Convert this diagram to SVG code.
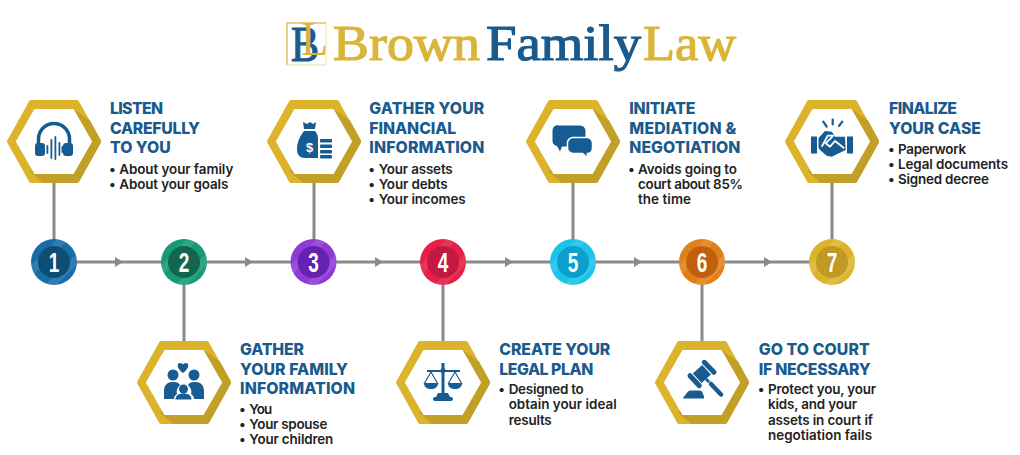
<svg xmlns="http://www.w3.org/2000/svg" width="1020" height="455" viewBox="0 0 1020 455">
<style>
.h{font:800 15.8px Inter,"Liberation Sans",sans-serif;fill:#1b5a8c}
.b{font:600 13.4px Inter,"Liberation Sans",sans-serif;fill:#222}
.n{font:700 28px "Liberation Sans",sans-serif;fill:#fff;text-anchor:middle}
.lg{font:400 50px "Liberation Serif",serif;stroke-width:1.200}
.g{fill:#d9b53c;stroke:#d9b53c}.u{fill:#1b5a8c;stroke:#1b5a8c}
.ic{fill:#165c92}
.ln{stroke:#8a8a8a;stroke-width:3;fill:none}
.ar{fill:#8a8a8a}
.st{stroke:#fff;stroke-opacity:.11;stroke-width:8;fill:none}
.is{stroke:#165c92;fill:none;stroke-linecap:round}
</style>
<defs>
<g id="hex">
<polygon points="-23,-39.500 23,-39.500 45,0 23,39.500 -23,39.500 -45,0" fill="#dcb42b" stroke="#dcb42b" stroke-width="4" stroke-linejoin="round"/>
<polygon points="-24,30 -11,41.500 23,41.500 25,40.500 47,1 47,-1 36,-21 20,-32 0,0" fill="#c29f27"/>
<polygon points="-19,-31.500 19,-31.500 37,0 19,31.500 -19,31.500 -37,0" fill="#fff" stroke="#fff" stroke-width="2" stroke-linejoin="round"/>
</g>
<clipPath id="cc"><circle r="23"/></clipPath>
<g id="stripes" clip-path="url(#cc)">
<path class="st" d="M-26,12 L12,-26 M-10,30 L30,-10"/>
</g>
</defs>

<g id="logo">
<path d="M287,65V23H326" fill="none" stroke="#e8d088" stroke-width="2"/>
<path d="M326,23V65H287" fill="none" stroke="#efdfa8" stroke-width="1"/>
<text x="291" y="61" class="lg u" style="font-size:51px" textLength="28" lengthAdjust="spacingAndGlyphs">B</text>
<text x="301" y="55" class="lg g" style="font-size:49px;stroke-width:0" textLength="27" lengthAdjust="spacingAndGlyphs">L</text>
<text x="333" y="60" class="lg g" textLength="147" lengthAdjust="spacingAndGlyphs">Brown</text>
<text x="486" y="60" class="lg u" textLength="155" lengthAdjust="spacingAndGlyphs">Family</text>
<text x="643" y="60" class="lg g" textLength="93" lengthAdjust="spacingAndGlyphs">Law</text>
</g>

<g id="connectors">
<path class="ln" d="M54,180V262M184,262V345M314,180V262M443,262V345M573,180V262M702,262V345M832,180V262"/>
<path class="ln" d="M54,262H832"/>
<path class="ar" d="M115,257l8,5l-8,5zM245,257l8,5l-8,5zM375,257l8,5l-8,5zM505,257l8,5l-8,5zM634,257l8,5l-8,5zM764,257l8,5l-8,5z"/>
</g>

<g id="node1">
<use href="#hex" x="54" y="141.500"/>
<g class="ic">
<path d="M38.500,148V139a15.500,15.500 0 0 1 31,0V148" fill="none" stroke="#165c92" stroke-width="3.500"/>
<rect x="35" y="143" width="10" height="13" rx="3"/><rect x="63" y="143" width="10" height="13" rx="3"/>
<rect x="46.500" y="145" width="1.800" height="9" rx=".9"/><rect x="50.500" y="139" width="1.800" height="20" rx=".9"/><rect x="54.500" y="136" width="1.800" height="24" rx=".9"/><rect x="58.500" y="142" width="1.800" height="14" rx=".9"/><rect x="61.500" y="146" width="1.500" height="7" rx=".7"/>
</g>
<text class="h" x="110" y="114" textLength="53">LISTEN</text>
<text class="h" x="110" y="133.500" textLength="90">CAREFULLY</text>
<text class="h" x="110" y="153" textLength="60.700">TO YOU</text>
<text class="b" x="109" y="173.500">•</text><text class="b" x="119.300" y="173.500" textLength="114">About your family</text>
<text class="b" x="109" y="188.500">•</text><text class="b" x="119.300" y="188.500" textLength="109">About your goals</text>
</g>

<g id="node2">
<use href="#hex" x="184" y="382.500"/>
<g class="ic">
<path d="M183,373c-7,-5 -6,-10 -3,-10c2,0 3,1 3,2c0,-1 1,-2 3,-2c3,0 4,5 -3,10z"/>
<circle cx="173" cy="375" r="5.500"/><circle cx="194" cy="375" r="5.500"/>
<path d="M164,399V391c0,-6 4,-9 8,-9h2c3,0 5,1 6,3c-3,3 -4,6 -3,9c-2,1 -3,3 -3,5z"/>
<path d="M204,399V391c0,-6 -4,-9 -8,-9h-2c-3,0 -5,1 -6,3c3,3 4,6 3,9c2,1 3,3 3,5z"/>
<circle cx="183.500" cy="389" r="4.500"/>
<path d="M175.500,399.500c0,-4 3,-6 8,-6s8,2 8,6z"/>
</g>
<text class="h" x="240" y="355" textLength="64">GATHER</text>
<text class="h" x="240" y="374.500" textLength="108">YOUR FAMILY</text>
<text class="h" x="240" y="394" textLength="115">INFORMATION</text>
<text class="b" x="239" y="413.500">•</text><text class="b" x="249.300" y="413.500" textLength="23">You</text>
<text class="b" x="239" y="428.700">•</text><text class="b" x="249.300" y="428.700" textLength="78">Your spouse</text>
<text class="b" x="239" y="444">•</text><text class="b" x="249.300" y="444" textLength="84">Your children</text>
</g>

<g id="node3">
<use href="#hex" x="314" y="141.500"/>
<g class="ic">
<path d="M303,122l4,2l3,-2l3,2l3,-2l-1,7h-11z"/>
<path d="M304,131h11c3,3 3,6 3,9v18h-13c-5,0 -8,-3 -8,-9c0,-8 4,-14 7,-18z"/>
<rect x="320" y="139" width="12" height="3.500" rx="1"/><rect x="320" y="144.500" width="12" height="3.500" rx="1"/><rect x="320" y="150" width="12" height="3.500" rx="1"/><rect x="320" y="155" width="12" height="3.500" rx="1"/>
</g>
<text x="309.500" y="152" fill="#fff" style="font:700 13px 'Liberation Sans',sans-serif" text-anchor="middle">$</text>
<text class="h" x="369.300" y="114" textLength="115">GATHER YOUR</text>
<text class="h" x="369.300" y="133.500" textLength="87">FINANCIAL</text>
<text class="h" x="369.300" y="153" textLength="115">INFORMATION</text>
<text class="b" x="368.300" y="173.500">•</text><text class="b" x="378.700" y="173.500" textLength="74">Your assets</text>
<text class="b" x="368.300" y="188.700">•</text><text class="b" x="378.700" y="188.700" textLength="69">Your debts</text>
<text class="b" x="368.300" y="204">•</text><text class="b" x="378.700" y="204" textLength="87">Your incomes</text>
</g>

<g id="node4">
<use href="#hex" x="443" y="382.500"/>
<g class="ic">
<circle cx="443" cy="370.500" r="2.500"/>
<rect x="441.500" y="363" width="3" height="30"/>
<rect x="427" y="370" width="33" height="2"/>
<path d="M438,393h10l2,4h-14z"/>
<rect x="433" y="397" width="20" height="4" rx="2"/>
<path d="M431,372l-7,12M431,372l7,12M455,372l-7,12M455,372l7,12" stroke="#165c92" stroke-width="1.200" fill="none"/>
<path d="M424,383h14c0,4 -3,6 -7,6s-7,-2 -7,-6z"/>
<path d="M448,383h14c0,4 -3,6 -7,6s-7,-2 -7,-6z"/>
</g>
<text class="h" x="499.300" y="355" textLength="111">CREATE YOUR</text>
<text class="h" x="499.300" y="374.500" textLength="94">LEGAL PLAN</text>
<text class="b" x="498.300" y="394">•</text><text class="b" x="508.700" y="394" textLength="75">Designed to</text>
<text class="b" x="508.700" y="409.200" textLength="108">obtain your ideal</text>
<text class="b" x="508.700" y="424.500" textLength="43">results</text>
</g>

<g id="node5">
<use href="#hex" x="573" y="141.500"/>
<g class="ic">
<path d="M558,125.500h22a5.500,5.500 0 0 1 5.500,5.500v10a5.500,5.500 0 0 1 -5.500,5.500h-18l-2,5l-3,-5.500a5.500,5.500 0 0 1 -4.500,-5.500v-10a5.500,5.500 0 0 1 5.500,-5.500z"/>
<path d="M573,137.500h14a5.500,5.500 0 0 1 5.500,5.500v5.500a5.500,5.500 0 0 1 -5,5l0,4l-5,-4h-9.500a5.500,5.500 0 0 1 -5.500,-5.500v-5a5.500,5.500 0 0 1 5.500,-5.500z" stroke="#fff" stroke-width="1.500"/>
</g>
<text class="h" x="629.300" y="114" textLength="66">INITIATE</text>
<text class="h" x="629.300" y="133.500" textLength="107">MEDIATION &amp;</text>
<text class="h" x="629.300" y="153" textLength="111">NEGOTIATION</text>
<text class="b" x="628" y="173.500">•</text><text class="b" x="638" y="173.500" textLength="99">Avoids going to</text>
<text class="b" x="638" y="188.700" textLength="105">court about 85%</text>
<text class="b" x="638" y="204" textLength="53">the time</text>
</g>

<g id="node6">
<use href="#hex" x="702" y="382.500"/>
<g class="ic">
<path d="M683,398.500c0,-1 1,-2 2,-3l3,-4c1,-1 2,-1 3,-1h8c1,0 2,0 3,1l2,5v2z"/>
<path d="M690,375.700L699.300,385.700M704.300,362.300L714,372.300" stroke="#165c92" stroke-width="5" stroke-linecap="round" fill="none"/>
<path d="M697.200,378.300L706.600,369.700" stroke="#165c92" stroke-width="13" fill="none"/>
<path d="M706,379L709,382" stroke="#165c92" stroke-width="3" fill="none"/>
<path d="M711,384L721,394.500" stroke="#165c92" stroke-width="4.500" stroke-linecap="round" fill="none"/>
</g>
<text class="h" x="758.700" y="355" textLength="111">GO TO COURT</text>
<text class="h" x="758.700" y="374.500" textLength="112">IF NECESSARY</text>
<text class="b" x="757.700" y="394">•</text><text class="b" x="768" y="394" textLength="108">Protect you, your</text>
<text class="b" x="768" y="409.200" textLength="89">kids, and your</text>
<text class="b" x="768" y="424.500" textLength="105">assets in court if</text>
<text class="b" x="768" y="439.800" textLength="104">negotiation fails</text>
</g>

<g id="node7">
<use href="#hex" x="832" y="141.500"/>
<g class="ic">
<rect x="811" y="136.500" width="6" height="17"/><rect x="847" y="136.500" width="6" height="17"/>
<path d="M818.500,138L825,131L832,131.700L835,136.700H845L845.700,150L831.700,156.700L826.700,155.700L820,150L818.500,147.700Z"/>
<path d="M821.700,146.700L827.700,135.700H833.300L825.700,143.300L830,146.700L835,141L844.300,148.300" stroke="#fff" stroke-width="1.800" fill="none" stroke-linejoin="round"/>
<path class="is" stroke-width="2.200" d="M832.700,119.500V124.300M823.300,121.700L826.700,126.700M842.300,121.700L839,126"/>
</g>
<text class="h" x="889" y="114" textLength="68">FINALIZE</text>
<text class="h" x="889" y="133.500" textLength="92">YOUR CASE</text>
<text class="b" x="888" y="154">•</text><text class="b" x="898" y="154" textLength="68">Paperwork</text>
<text class="b" x="888" y="169">•</text><text class="b" x="898" y="169" textLength="110">Legal documents</text>
<text class="b" x="888" y="184.300">•</text><text class="b" x="898" y="184.300" textLength="91">Signed decree</text>
</g>

<g id="step1"><g transform="translate(54,262)"><circle r="23" fill="#1a6ca8"/><use href="#stripes"/><circle r="16" fill="#0e4d74"/><text class="n" transform="translate(0,10) scale(.68,1)">1</text></g></g>
<g id="step2"><g transform="translate(184,262)"><circle r="23" fill="#179a78"/><use href="#stripes"/><circle r="16" fill="#126650"/><text class="n" transform="translate(0,10) scale(.68,1)">2</text></g></g>
<g id="step3"><g transform="translate(313.500,262)"><circle r="23" fill="#8e3bd6"/><use href="#stripes"/><circle r="16" fill="#6422b0"/><text class="n" transform="translate(0,10) scale(.68,1)">3</text></g></g>
<g id="step4"><g transform="translate(443,262)"><circle r="23" fill="#e51f45"/><use href="#stripes"/><circle r="16" fill="#c21842"/><text class="n" transform="translate(0,10) scale(.68,1)">4</text></g></g>
<g id="step5"><g transform="translate(573,262)"><circle r="23" fill="#1cc3e8"/><use href="#stripes"/><circle r="16" fill="#0c9fcb"/><text class="n" transform="translate(0,10) scale(.68,1)">5</text></g></g>
<g id="step6"><g transform="translate(702,262)"><circle r="23" fill="#e08018"/><use href="#stripes"/><circle r="16" fill="#c0600f"/><text class="n" transform="translate(0,10) scale(.68,1)">6</text></g></g>
<g id="step7"><g transform="translate(832,262)"><circle r="23" fill="#dcb42b"/><use href="#stripes"/><circle r="16" fill="#bf9a26"/><text class="n" transform="translate(0,10) scale(.68,1)">7</text></g></g>
</svg>
